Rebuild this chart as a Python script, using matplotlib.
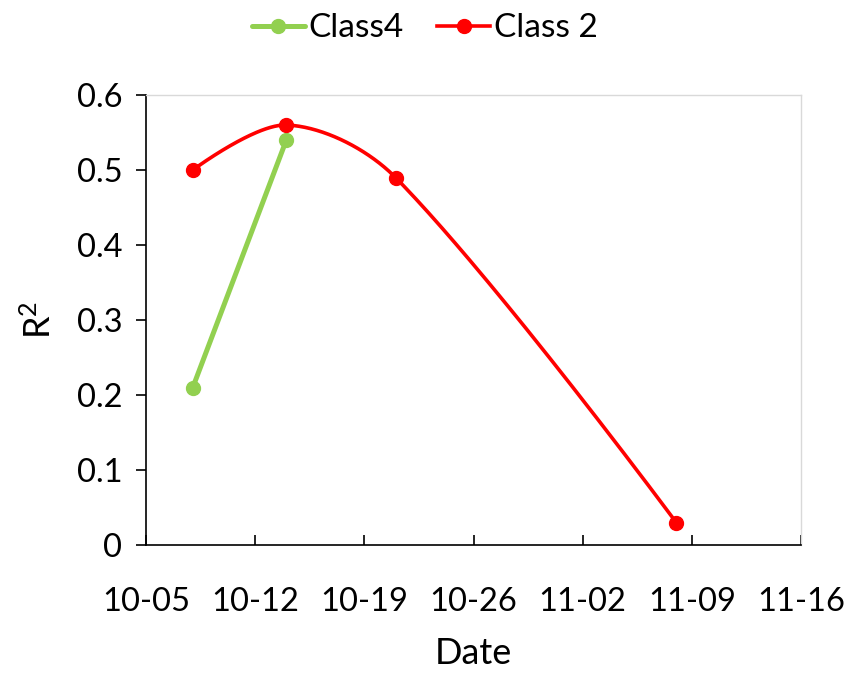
import matplotlib
matplotlib.use("Agg")
import matplotlib.pyplot as plt
import matplotlib.dates as mdates
import numpy as np
from datetime import datetime

plt.rcParams['font.family'] = ['Lato', 'DejaVu Sans']
plt.rcParams['mathtext.fontset'] = 'custom'
plt.rcParams['mathtext.rm'] = 'Lato'
plt.rcParams['mathtext.it'] = 'Lato:italic'

class4_dates = ["2023-10-08", "2023-10-14"]
class4_vals = [0.21, 0.54]
class2_dates = ["2023-10-08", "2023-10-14", "2023-10-21", "2023-11-08"]
class2_vals = [0.50, 0.56, 0.49, 0.03]
xtick_dates = ["2023-10-05", "2023-10-12", "2023-10-19", "2023-10-26",
               "2023-11-02", "2023-11-09", "2023-11-16"]
yticks = [0, 0.1, 0.2, 0.3, 0.4, 0.5, 0.6]

def to_num(ds):
    return np.array([mdates.date2num(datetime.strptime(d, "%Y-%m-%d")) for d in ds])

fig = plt.figure(figsize=(8.49, 6.73), dpi=100)
ax = fig.add_axes([146/849, 128/673, 655/849, 450/673])

xt = to_num(xtick_dates)
xmin, xmax = xt[0], xt[-1]
ymin, ymax = 0, 0.6
ax.set_xlim(xmin, xmax)
ax.set_ylim(ymin, ymax)

def smooth(x, y, n=80):
    # Bezier smoothing in screen-like coordinates, with length-proportional tangents
    W, H = 655.0, 450.0
    px = (x - xmin) / (xmax - xmin) * W
    py = (y - ymin) / (ymax - ymin) * H
    P = np.column_stack([px, py])
    m = len(P)
    out = []
    for i in range(m - 1):
        p0 = P[i - 1] if i > 0 else P[i]
        p1 = P[i]
        p2 = P[i + 1]
        p3 = P[i + 2] if i + 2 < m else P[i + 1]
        d01 = np.linalg.norm(p1 - p0)
        d12 = np.linalg.norm(p2 - p1)
        d23 = np.linalg.norm(p3 - p2)
        f1 = d12 / (d01 + d12) / 3.0 if d01 > 0 else 0.0
        f2 = d12 / (d12 + d23) / 3.0 if d23 > 0 else 0.0
        c1 = p1 + (p2 - p0) * f1
        c2 = p2 - (p3 - p1) * f2
        t = np.linspace(0, 1, n)[:, None]
        seg = ((1 - t) ** 3) * p1 + 3 * ((1 - t) ** 2) * t * c1 + 3 * (1 - t) * t ** 2 * c2 + t ** 3 * p2
        out.append(seg if i == 0 else seg[1:])
    S = np.vstack(out)
    sx = S[:, 0] / W * (xmax - xmin) + xmin
    sy = S[:, 1] / H * (ymax - ymin) + ymin
    return sx, sy

green = "#92d050"
red = "#ff0000"

x4 = to_num(class4_dates)
x2 = to_num(class2_dates)

ax.plot(x4, class4_vals, color=green, lw=3.6, marker='o', ms=10, label="Class4",
        solid_capstyle='round', zorder=3)
sx, sy = smooth(x2, np.array(class2_vals))
ax.plot(sx, sy, color=red, lw=2.6, zorder=4)
ax.plot(x2, class2_vals, color=red, lw=0, marker='o', ms=10, zorder=5)
ax.plot([], [], color=red, lw=2.6, marker='o', ms=10, label="Class 2")

ax.set_xticks(xt)
ax.set_xticklabels([d[5:] for d in xtick_dates])
ax.set_yticks(yticks)
ax.set_yticklabels(["0" if v == 0 else f"{v:.1f}" for v in yticks])

ax.tick_params(axis='x', direction='in', length=7, width=1.2, labelsize=23.5, pad=30, colors='black')
ax.tick_params(axis='y', direction='out', length=7, width=1.2, labelsize=23.5, pad=10)

for s in ['left', 'bottom']:
    ax.spines[s].set_linewidth(1.2)
    ax.spines[s].set_color('black')
for s in ['top', 'right']:
    ax.spines[s].set_linewidth(1.0)
    ax.spines[s].set_color('#d9d9d9')

ax.set_xlabel("Date", fontsize=26, labelpad=15)
ax.set_ylabel(r"$\mathrm{R}^{\mathrm{2}}$", fontsize=26, labelpad=14)

fig.legend(loc='upper center', bbox_to_anchor=(0.5, 1.025), ncol=2, frameon=False,
           fontsize=24, handlelength=1.6, columnspacing=1.0, handletextpad=0.1)

fig.savefig("out.png", dpi=100)
